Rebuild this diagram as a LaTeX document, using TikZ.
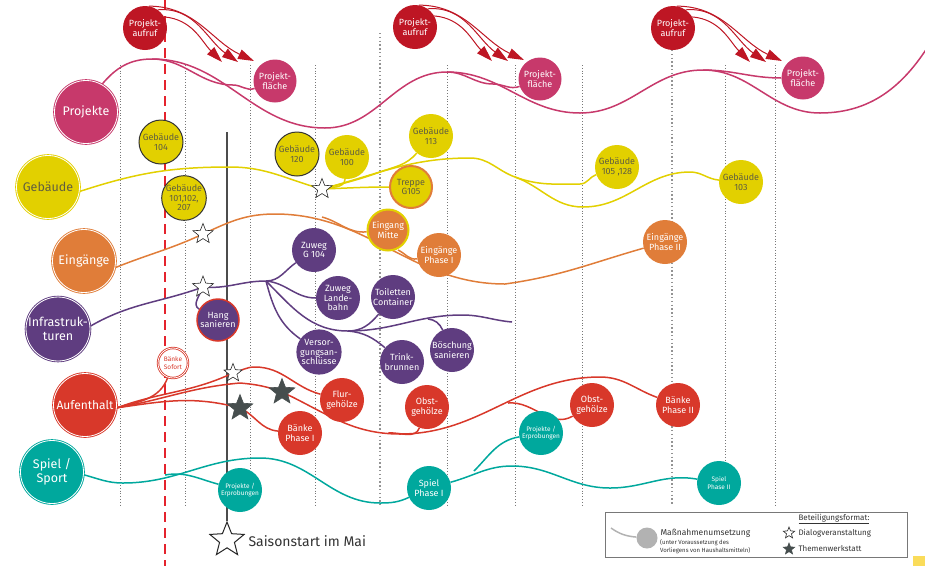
\documentclass[tikz,border=0pt]{standalone}
\usepackage{fontspec}
\setmainfont{Fira Sans}
\usetikzlibrary{shapes.geometric,arrows.meta,backgrounds}
\definecolor{projcolor}{RGB}{199,57,107}
\definecolor{aufrufcolor}{RGB}{190,22,36}
\definecolor{dashcolor}{RGB}{228,35,45}
\definecolor{gebcolor}{RGB}{226,208,0}
\definecolor{gebtext}{RGB}{96,94,64}
\definecolor{eingcolor}{RGB}{224,125,57}
\definecolor{infcolor}{RGB}{95,61,128}
\definecolor{aufcolor}{RGB}{216,56,42}
\definecolor{spielcolor}{RGB}{0,168,157}
\definecolor{gridcolor}{RGB}{120,120,120}
\definecolor{starcolor}{RGB}{70,78,78}
\definecolor{legcolor}{RGB}{178,178,178}
\definecolor{notecolor}{RGB}{250,220,90}

\begin{document}
\begin{tikzpicture}[%
    x=1pt, y=-1pt,                       % pixel grid, y grows downwards
    >={Triangle[length=16pt,width=10pt]}, % big heads for the calls
    font=\fontsize{9}{9.5}\selectfont,
    ]
\tikzset{
  cat/.style={circle, minimum size=63pt, inner sep=0pt, align=center,
    fill=#1, draw=#1, double=white, double distance=0.8pt, line width=0.9pt,
    text=white, font=\fontsize{12.5}{13.5}\selectfont},
  item/.style={circle, minimum size=44pt, inner sep=0pt, align=center,
    fill=#1, text=white},
  geb/.style={item=gebcolor, text=gebtext},
  done/.style={draw=black!80, line width=1pt},
  smalltext/.style={font=\fontsize{6.5}{7.5}\selectfont},
  wstar/.style={star, star points=5, star point ratio=2.3, inner sep=0pt,
    minimum size=#1, draw=black!85, fill=white, line width=0.6pt},
  dstar/.style={wstar=#1, draw=starcolor, fill=starcolor},
  wave/.style={line width=1.5pt},
  dotline/.style={gridcolor, line width=0.8pt, dash pattern=on 0.8pt off 2pt},
  dotbold/.style={gridcolor!80, line width=1.4pt, dash pattern=on 1.4pt off 2.4pt},
  call/.style={->, aufrufcolor, line width=1pt},
  legtext/.style={anchor=west, text=black!80, font=\fontsize{8}{9}\selectfont},
}
\useasboundingbox (0,0) rectangle (925,566);

% calls and project areas
\node [item=aufrufcolor] (pa1) at (145,28) {Projekt-\\aufruf};
\node [item=aufrufcolor] (pa2) at (415,27) {Projekt-\\aufruf};
\node [item=aufrufcolor] (pa3) at (673,28) {Projekt-\\aufruf};
\node [item=projcolor, minimum size=43pt] (pf1) at (275,81) {Projekt-\\fläche};
\node [item=projcolor, minimum size=43pt] (pf2) at (540,79) {Projekt-\\fläche};
\node [item=projcolor, minimum size=43pt] (pf3) at (803,78) {Projekt-\\fläche};

% themes
\node [cat=projcolor] (projekte) at (86,112) {Projekte};
\node [cat=gebcolor, text=gebtext] (gebaeude) at (48,187) {Gebäude};
\node [cat=eingcolor] (eingaenge) at (84,261) {Eingänge};
\node [cat=infcolor] (infra) at (58,329) {Infrastruk-\\turen};
\node [cat=aufcolor, font=\fontsize{12}{13}\selectfont] (aufenthalt) at (85,405) {Aufenthalt};
\node [cat=spielcolor] (spiel) at (52,472) {Spiel /\\Sport};

% buildings
\node [geb, done] (g104) at (161,142) {Gebäude\\104};
\node [geb, done] (g101) at (184,198) {Gebäude\\101,102,\\207};
\node [geb, done] (g120) at (297,154) {Gebäude\\120};
\node [geb] (g100) at (347,157) {Gebäude\\100};
\node [geb] (g113) at (431,136) {Gebäude\\113};
\node [geb, draw=eingcolor, line width=2pt, minimum size=42pt] (treppe) at (411,187) {Treppe\\G105};
\node [geb] (g105) at (617,167) {Gebäude\\105 ,128};
\node [geb] (g103) at (741,182) {Gebäude\\103};

% entrances
\node [item=eingcolor, draw=gebcolor, line width=2pt, minimum size=41pt] (mitte) at (388,230) {Eingang\\Mitte};
\node [item=eingcolor] (ephase1) at (439,255) {Eingänge\\Phase I};
\node [item=eingcolor] (ephase2) at (665,242) {Eingänge\\Phase II};

% infrastructure
\node [item=infcolor, draw=aufcolor, line width=1.5pt, minimum size=42pt] (hang) at (218,320) {Hang\\sanieren};
\node [item=infcolor] (zg104) at (314,250) {Zuweg\\G 104};
\node [item=infcolor] (zland) at (338,298) {Zuweg\\Lande-\\bahn};
\node [item=infcolor] (toilet) at (393,297) {Toiletten\\Container};
\node [item=infcolor] (versorg) at (319,352) {Versor-\\gungsan-\\schlüsse};
\node [item=infcolor] (trink) at (402,362) {Trink-\\brunnen};
\node [item=infcolor] (boesch) at (452,350) {Böschung\\sanieren};

% places to stay
\node [circle, minimum size=30pt, inner sep=0pt, align=center, fill=white,
  draw=aufcolor, double=white, double distance=0.8pt, line width=0.8pt,
  text=aufcolor, smalltext] (sofort) at (173,363) {Bänke\\Sofort};
\node [item=aufcolor] (flur) at (342,400) {Flur-\\gehölze};
\node [item=aufcolor] (obst1) at (427,407) {Obst-\\gehölze};
\node [item=aufcolor] (obst2) at (592,405) {Obst-\\gehölze};
\node [item=aufcolor] (bphase1) at (300,433) {Bänke\\Phase I};
\node [item=aufcolor] (bphase2) at (678,405) {Bänke\\Phase II};

% play and sport
\node [item=spielcolor, smalltext] (erprob1) at (240,490) {Projekte /\\Erprobungen};
\node [item=spielcolor] (sphase1) at (429,488) {Spiel\\Phase I};
\node [item=spielcolor, smalltext] (erprob2) at (541,433) {Projekte /\\Erprobungen};
\node [item=spielcolor, smalltext] (sphase2) at (719,483) {Spiel\\Phase II};

% participation
\node [wstar=21pt] (stgeb) at (322,189) {};
\node [wstar=21pt] (steing) at (203,234) {};
\node [wstar=22pt] (stinfra) at (203,287) {};
\node [wstar=19pt] (staufw) at (233,373) {};
\node [dstar=27pt] (stauf1) at (282,392) {};
\node [dstar=27pt] (stauf2) at (240,408) {};
\node [wstar=36pt, line width=1pt] (saison) at (227,540) {};
\node [anchor=west, text=black!80, font=\fontsize{14}{15}\selectfont] (saisontext) at (245,541) {Saisonstart im Mai};

% legend
\node [draw=gridcolor, line width=1.2pt, minimum width=302pt, minimum height=45pt,
  anchor=north west, inner sep=0pt] (legend) at (605,512) {};
\node [circle, fill=legcolor, minimum size=21pt, inner sep=0pt] (legdot) at (647,538) {};
\coordinate (legstart) at (611,528);
\node [legtext, font=\fontsize{8.5}{9}\selectfont] (legmass) at (657,533) {Maßnahmenumsetzung};
\node [anchor=north west, align=left, inner sep=0pt, text=black!80,
  font=\fontsize{6}{7.5}\selectfont] (legnote) at (660,539.5) {(unter Voraussetzung des\\Vorliegens von Haushaltsmitteln)};
\node [legtext] (legtitle) at (795,519) {\underline{Beteiligungsformat:}};
\node [wstar=12pt] (legw) at (789,533) {};
\node [legtext] (legdialog) at (795,533) {Dialogveranstaltung};
\node [dstar=12pt] (legd) at (789,549) {};
\node [legtext] (legwerk) at (795,549) {Themenwerkstatt};
\fill [notecolor] (913,556) rectangle (925,566);

\begin{scope}[on background layer]
% year grid
\foreach \x in {120,185,250,315,447,515,582,775}
  \draw [dotline] (\x,65) -- (\x,505);
\draw [dotline] (725,65) -- (725,460);
\foreach \x/\y in {380/33,672/50}
  \draw [dotbold] (\x,\y) -- (\x,505);

% today and season start
\coordinate (dashtop) at (165,0);
\coordinate (dashbot) at (165,566);
\draw [dashcolor, line width=2.6pt, dash pattern=on 10pt off 6pt] (dashtop) -- (dashbot);
\coordinate (saisontop) at (227,132);
\draw [black!70, line width=2pt] (saisontop) -- (saison.north);

% calls
\foreach \n in {pa1,pa2,pa3} {
  \coordinate (\n-a) at ([shift={(77,34)}]\n.center);
  \coordinate (\n-b) at ([shift={(93,34)}]\n.center);
  \coordinate (\n-c) at ([shift={(109,33)}]\n.center);
  \draw [call] (\n.80) to[out=0,in=155] (\n-c);
  \draw [call] (\n.55) to[out=5,in=145] (\n-b);
  \draw [call] (\n.30) to[out=-5,in=135] (\n-a);
}

% Projekte
\coordinate (pk1) at (152,59);
\coordinate (pk2) at (447,72);
\coordinate (pk3) at (703,70);
\coordinate (pkend) at (935,35);
\draw [wave, projcolor] (projekte.60) to[out=50,in=180] (pk1) to[out=0,in=180] (325,128)
  to[out=0,in=180] (pk2) to[out=0,in=180] (580,113) to[out=0,in=180] (pk3)
  to[out=0,in=180] (820,113) to[out=0,in=240] (pkend);
\draw [wave, projcolor] (pk1) to[out=0,in=180] (233,85) to[out=0,in=200] (pf1);
\draw [wave, projcolor] (pk2) to[out=0,in=180] (493,84) to[out=0,in=200] (pf2);
\draw [wave, projcolor] (pk3) to[out=0,in=180] (pf3);

% Gebäude
\coordinate (jgeb) at (515,177);
\draw [wave, gebcolor] (gebaeude.-8) to[out=18,in=180] (230,167) to[out=0,in=165] (stgeb.center)
  to[out=15,in=180] (470,158) to[out=0,in=160] (jgeb);
\draw [wave, gebcolor] (jgeb) to[out=-20,in=180] (580,184) to[out=0,in=200] (g105);
\draw [wave, gebcolor] (jgeb) to[out=-20,in=180] (583,207) to[out=0,in=180] (690,172)
  to[out=0,in=175] (g103);
\draw [wave, gebcolor] (stgeb.center) to[out=15,in=-95] (g100);
\draw [wave, gebcolor] (stgeb.center) to[out=15,in=200] (380,172) to[out=20,in=-130] (g113);
\draw [wave, gebcolor] (stgeb.center) to[out=2,in=180] (treppe);

% Eingänge
\coordinate (jmitte) at (322,217);
\coordinate (jphase) at (398,250);
\draw [wave, eingcolor] (eingaenge.-12) to[out=22,in=205] (steing.center) to[out=25,in=180] (275,214)
  to[out=0,in=180] (505,284) to[out=8,in=196] (ephase2);
\draw [wave, eingcolor] (jmitte) to[out=-15,in=185] (mitte);
\draw [wave, eingcolor] (jphase) to[out=-25,in=190] (ephase1);

% Infrastrukturen
\coordinate (jinf) at (266,281);
\coordinate (jtoil) at (348,331);
\coordinate (jboe) at (428,319);
\coordinate (infend) at (512,322);
\draw [wave, infcolor] (infra.5) to[out=30,in=200] (stinfra.center) to[out=-5,in=180] (jinf)
  to[out=0,in=215] (zg104);
\draw [wave, infcolor] (stinfra.center) to[out=-110,in=150] (hang);
\draw [wave, infcolor] (jinf) to[out=-5,in=180] (zland);
\draw [wave, infcolor] (jinf) to[out=-75,in=145] (versorg);
\draw [wave, infcolor] (jinf) to[out=-45,in=180] (jtoil) to[out=0,in=-130] (toilet);
\draw [wave, infcolor] (jtoil) to[out=-5,in=140] (trink);
\draw [wave, infcolor] (jtoil) to[out=0,in=180] (462,315) to[out=0,in=175] (infend);
\draw [wave, infcolor] (jboe) to[out=-5,in=115] (boesch);

% Aufenthalt
\coordinate (jobst1) at (388,433);
\coordinate (jobst2) at (508,403);
\draw [wave, aufcolor] (aufenthalt.-5) to[out=20,in=205] (staufw.center) to[out=15,in=180] (255,367)
  to[out=0,in=165] (flur);
\draw [wave, aufcolor] (aufenthalt.-5) to[out=10,in=185] (240,383) to[out=-5,in=160] (stauf1.center)
  to[out=-25,in=180] (400,434) to[out=0,in=180] (600,377) to[out=0,in=160] (bphase2);
\draw [wave, aufcolor] (aufenthalt.-5) to[out=8,in=165] (stauf2.center) to[out=-25,in=175] (bphase1);
\draw [wave, aufcolor] (sofort) to[out=-110,in=15] (aufenthalt.-5);
\draw [wave, aufcolor] (obst1) to[out=-110,in=5] (jobst1);
\draw [wave, aufcolor] (jobst2) to[out=5,in=210] (obst2);

% Spiel / Sport
\coordinate (jsp1) at (165,475);
\coordinate (jsp2) at (474,471);
\draw [wave, spielcolor] (spiel.-5) to[out=-15,in=180] (123,483) to[out=0,in=180] (260,458)
  to[out=0,in=180] (380,503) to[out=0,in=205] (sphase1);
\draw [wave, spielcolor] (jsp1) to[out=10,in=165] (erprob1);
\draw [wave, spielcolor] (sphase1) to[out=15,in=180] (512,466) to[out=0,in=180] (610,488)
  to[out=0,in=170] (sphase2);
\draw [wave, spielcolor] (jsp2) to[out=45,in=190] (erprob2);

% legend line
\draw [legcolor, line width=1.5pt] (legstart) to[out=-35,in=175] (legdot);
\end{scope}

\end{tikzpicture}
\end{document}
